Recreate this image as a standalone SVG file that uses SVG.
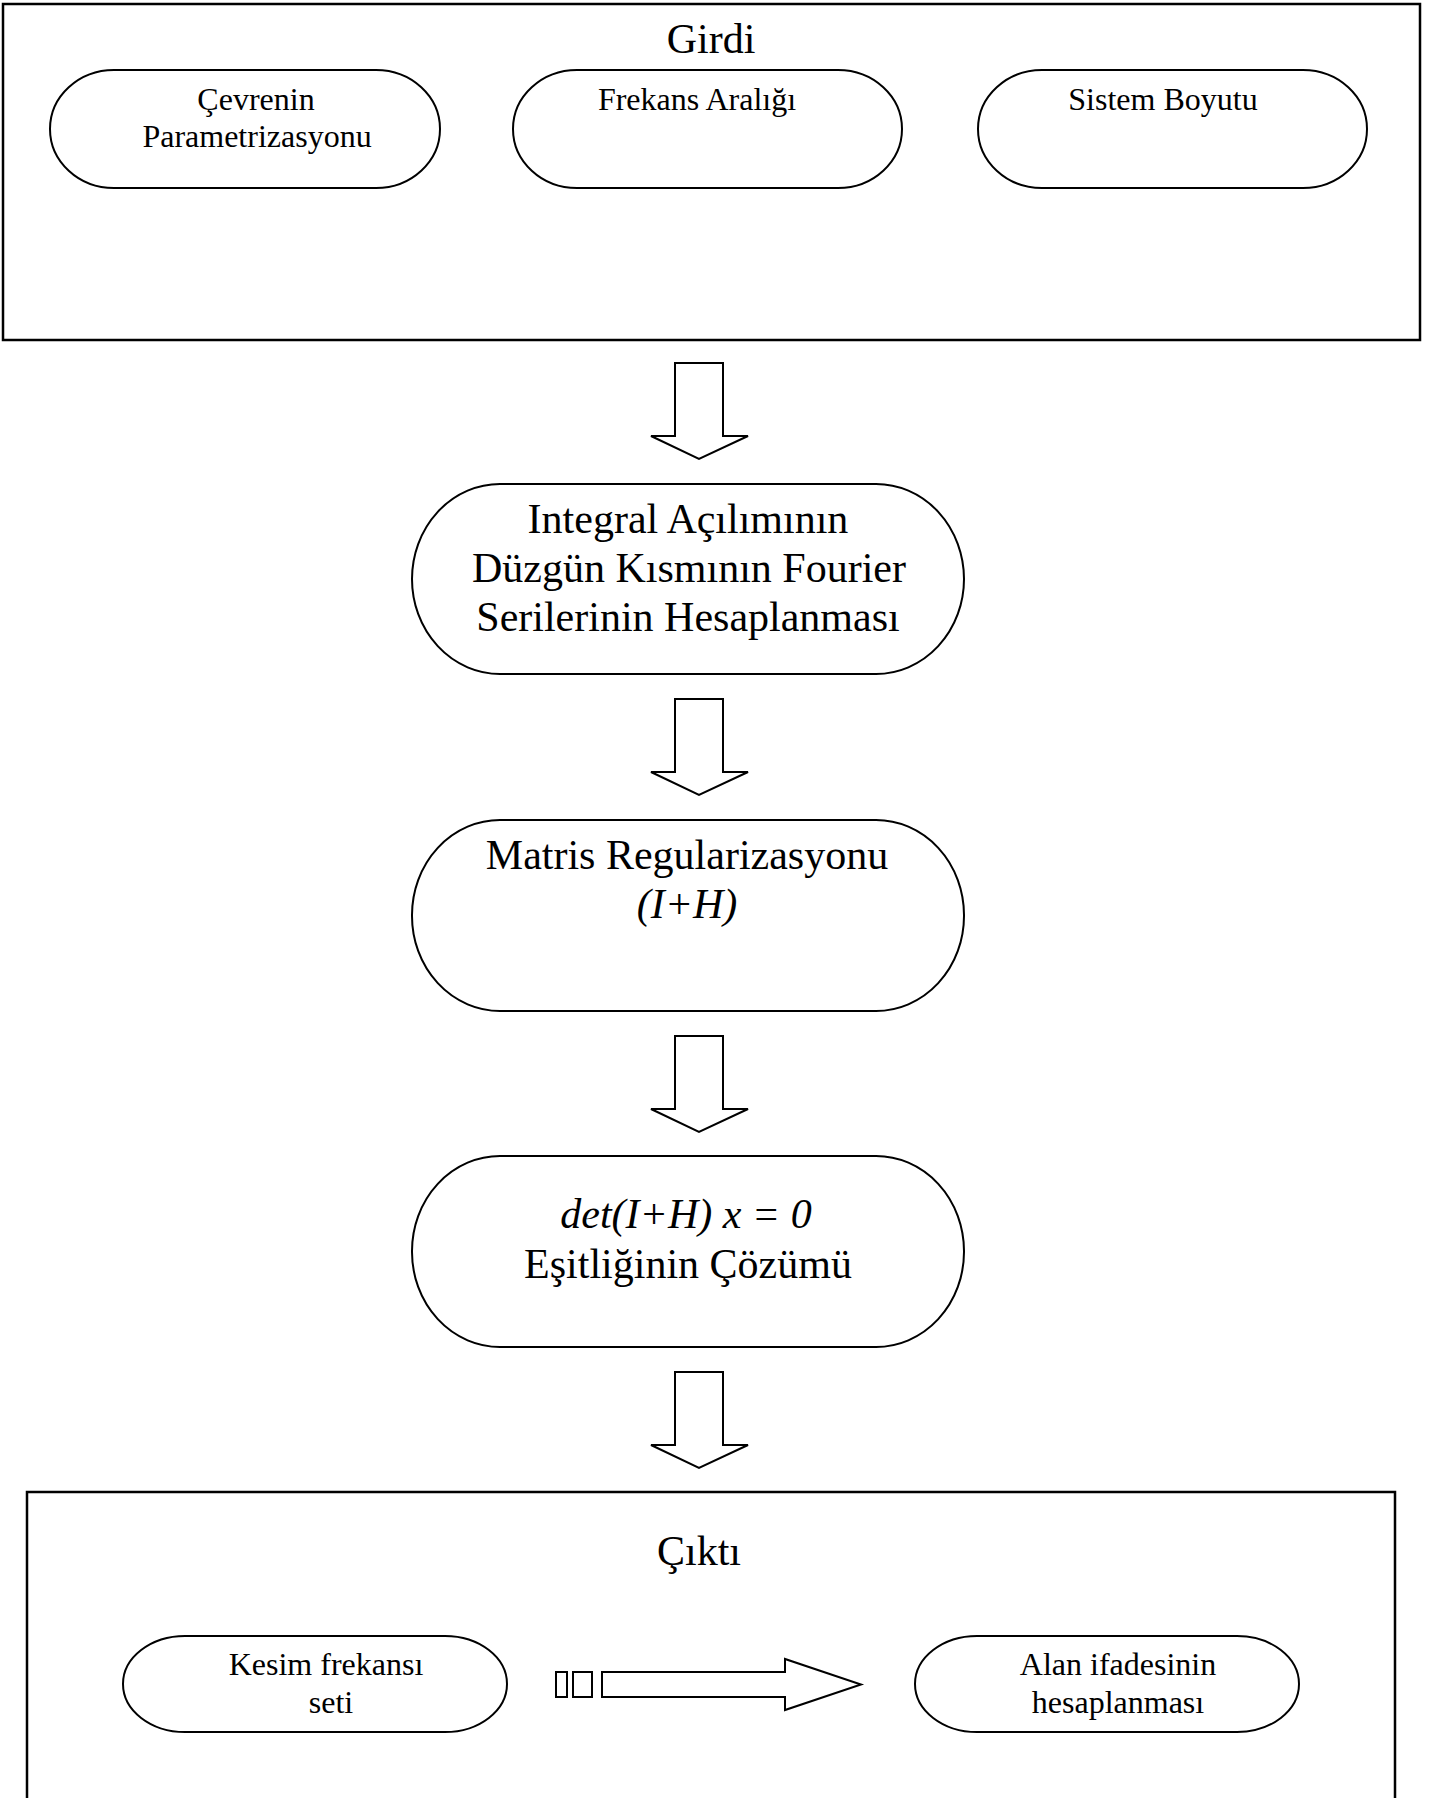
<svg xmlns="http://www.w3.org/2000/svg" width="1435" height="1798" viewBox="0 0 1435 1798">
<style>
  .frame { fill: none; stroke: #000; stroke-width: 2.5; }
  .pill { fill: #fff; stroke: #000; stroke-width: 2; }
  .arrow { fill: #fff; stroke: #000; stroke-width: 2; stroke-linejoin: miter; }
  text { font-family: "Liberation Serif", "Times New Roman", serif; fill: #000; text-anchor: middle; }
  .t42 { font-size: 42px; }
  .t32 { font-size: 32px; }
  .it { font-style: italic; }
</style>
<rect x="0" y="0" width="1435" height="1798" fill="#fff"/>

<g id="girdi">
  <rect class="frame" x="3" y="4" width="1417" height="336"/>
  <text class="t42" x="711" y="53">Girdi</text>
</g>

<g id="cevrenin-parametrizasyonu">
  <rect class="pill" x="50" y="70" width="390" height="118" rx="64" ry="59"/>
  <text class="t32" x="256" y="110">Çevrenin</text>
  <text class="t32" x="257" y="147">Parametrizasyonu</text>
</g>

<g id="frekans-araligi">
  <rect class="pill" x="513" y="70" width="389" height="118" rx="64" ry="59"/>
  <text class="t32" x="697" y="110">Frekans Aralığı</text>
</g>

<g id="sistem-boyutu">
  <rect class="pill" x="978" y="70" width="389" height="118" rx="64" ry="59"/>
  <text class="t32" x="1163" y="110">Sistem Boyutu</text>
</g>

<g id="fourier">
  <rect class="pill" x="412" y="484" width="552" height="190" rx="88" ry="95"/>
  <text class="t42" x="688" y="533">Integral Açılımının</text>
  <text class="t42" x="689" y="582">Düzgün Kısmının Fourier</text>
  <text class="t42" x="688" y="631">Serilerinin Hesaplanması</text>
</g>

<g id="regularizasyon">
  <rect class="pill" x="412" y="820" width="552" height="191" rx="88" ry="95"/>
  <text class="t42" x="687" y="869">Matris Regularizasyonu</text>
  <text class="t42 it" x="687" y="918">(I+H)</text>
</g>

<g id="cozum">
  <rect class="pill" x="412" y="1156" width="552" height="191" rx="88" ry="95"/>
  <text class="t42 it" x="686" y="1228">det(I+H) x = 0</text>
  <text class="t42" x="688" y="1278">Eşitliğinin Çözümü</text>
</g>

<g id="cikti">
  <path class="frame" d="M27,1810 V1492 H1395 V1810"/>
  <text class="t42" x="699" y="1565">Çıktı</text>
</g>

<g id="kesim-frekansi">
  <rect class="pill" x="123" y="1636" width="384" height="96" rx="62" ry="48"/>
  <text class="t32" x="326" y="1675">Kesim frekansı</text>
  <text class="t32" x="331" y="1713">seti</text>
</g>

<g id="alan-ifadesi">
  <rect class="pill" x="915" y="1636" width="384" height="96" rx="62" ry="48"/>
  <text class="t32" x="1118" y="1675">Alan ifadesinin</text>
  <text class="t32" x="1118" y="1713">hesaplanması</text>
</g>

<g id="connectors">
  <polygon class="arrow" points="675,363 723,363 723,436 748,436 699,459 651,436 675,436"/>
  <polygon class="arrow" points="675,699 723,699 723,772 748,772 699,795 651,772 675,772"/>
  <polygon class="arrow" points="675,1036 723,1036 723,1109 748,1109 699,1132 651,1109 675,1109"/>
  <polygon class="arrow" points="675,1372 723,1372 723,1445 748,1445 699,1468 651,1445 675,1445"/>
  <g id="striped-arrow">
    <rect class="arrow" x="556" y="1672" width="11" height="25"/>
    <rect class="arrow" x="573" y="1672" width="19" height="25"/>
    <polygon class="arrow" points="602,1672 785,1672 785,1659 861,1684.5 785,1710 785,1697 602,1697"/>
  </g>
</g>
</svg>
